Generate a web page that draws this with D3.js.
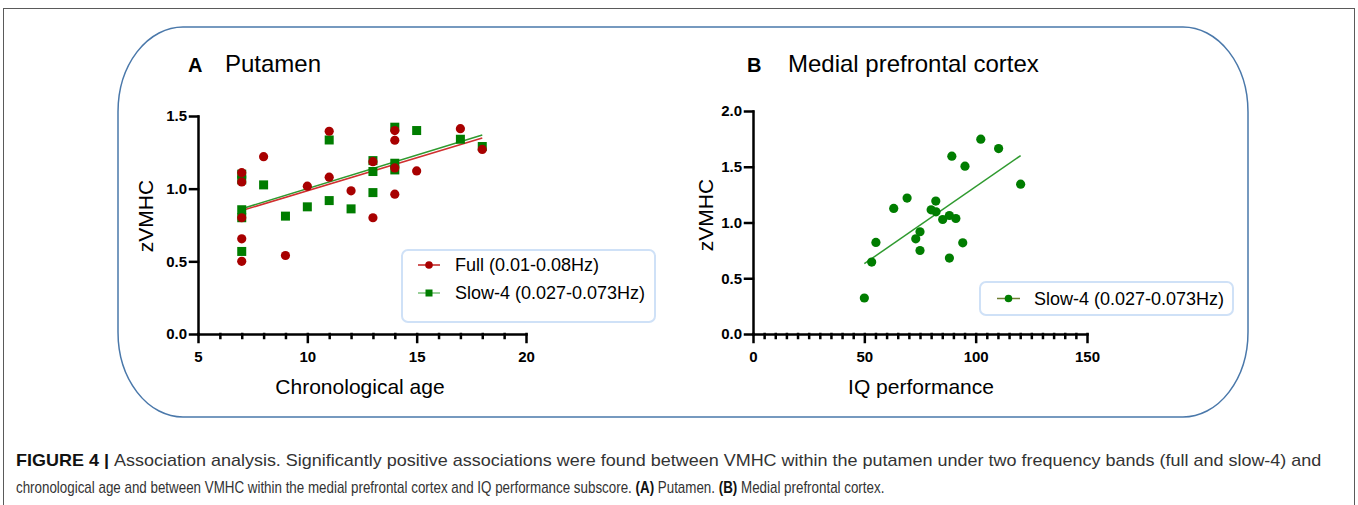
<!DOCTYPE html>
<html>
<head>
<meta charset="utf-8">
<script src="https://cdn.jsdelivr.net/npm/d3@7"></script>
<style>
  body { margin: 0; background: #fff; }
  text { font-family: "Liberation Sans", Arial, sans-serif; }
</style>
</head>
<body>
<div id="canvas"></div>
<script>
"use strict"

/* panel A: putamen, full band (red circles) */
let ageFull  = [7, 7, 7, 7, 7, 8, 9, 10, 11, 11, 12, 13, 13, 14, 14, 14, 14, 15, 17, 18]
let vmhcFull = [0.50, 0.655, 0.80, 1.046, 1.11, 1.22, 0.54, 1.017, 1.395, 1.079,
                0.985, 0.80, 1.186, 1.40, 1.333, 1.143, 0.962, 1.122, 1.413, 1.27]

/* panel A: putamen, slow-4 band (green squares) */
let ageSlow  = [7, 7, 7, 7, 7, 8, 9, 10, 11, 11, 12, 13, 13, 13, 14, 14, 14, 15, 17, 18]
let vmhcSlow = [0.568, 0.80, 0.855, 1.06, 1.10, 1.026, 0.811, 0.875, 0.918, 1.335,
                0.861, 1.193, 1.118, 0.973, 1.423, 1.175, 1.129, 1.40, 1.34, 1.29]

/* panel B: medial prefrontal cortex vs IQ performance */
let iqScore = [50, 53.3, 55.2, 63.2, 69.2, 73.1, 75, 75, 80, 82.1, 82.2,
               85.2, 88.2, 91.1, 88.2, 89.3, 94.2, 95.2, 102.3, 110.3, 120.2]
let vmhcIQ  = [0.323, 0.645, 0.821, 1.126, 1.219, 0.854, 0.917, 0.749, 1.114, 1.192, 1.096,
               1.027, 1.063, 1.036, 0.681, 1.595, 0.818, 1.505, 1.747, 1.663, 1.344]

/* tick labels */
let ageTicks   = [5, 10, 15, 20]
let ageMinor   = [6, 7, 8, 9, 11, 12, 13, 14, 16, 17, 18, 19]
let vmhcTicksA = [0, 0.5, 1.0, 1.5]
let iqTicks    = [0, 50, 100, 150]
let iqMinor    = [5, 10, 15, 20, 25, 30, 35, 40, 45, 55, 60, 65, 70, 75, 80, 85, 90, 95,
                  105, 110, 115, 120, 125, 130, 135, 140, 145]
let vmhcTicksB = [0, 0.5, 1.0, 1.5, 2.0]

let legendA = ["Full (0.01-0.08Hz)", "Slow-4 (0.027-0.073Hz)"]
let legendB = ["Slow-4 (0.027-0.073Hz)"]

/* caption pieces, [text, bold?] */
let captionLine1 = [["FIGURE 4 | ", true],
    ["Association analysis. Significantly positive associations were found between VMHC within the putamen under two frequency bands (full and slow-4) and", false]]
let captionLine2 = [["chronological age and between VMHC within the medial prefrontal cortex and IQ performance subscore. ", false],
    ["(A)", true], [" Putamen. ", false], ["(B)", true], [" Medial prefrontal cortex.", false]]

/* colours picked off the figure */
let red = "#a80000"
let green = "#007d00"

let drawing = d3.select("#canvas")
    .append("svg")
    .attr("width", 1358)
    .attr("height", 505)

/* grey frame around the whole figure */
drawing.append("rect")
    .attr("x", 3.5)
    .attr("y", 8.5)
    .attr("width", 1351)
    .attr("height", 520)
    .attr("fill", "none")
    .attr("stroke", "#5a5a5a")
    .attr("stroke-width", 1)

/* the big blue rounded box */
drawing.append("rect")
    .attr("x", 118)
    .attr("y", 27)
    .attr("width", 1130)
    .attr("height", 390)
    .attr("rx", 65)
    .attr("ry", 85)
    .attr("fill", "none")
    .attr("stroke", "#4a78aa")
    .attr("stroke-width", 1.5)

/* least squares line through a series */
function fitLine(xs, ys) {
    let mx = d3.mean(xs), my = d3.mean(ys)
    let sxy = d3.sum(xs, (x, i) => (x - mx) * (ys[i] - my))
    let sxx = d3.sum(xs, x => (x - mx) * (x - mx))
    let b = sxy / sxx
    let a = my - b * mx
    let lo = d3.min(xs), hi = d3.max(xs)
    return [[lo, a + b * lo], [hi, a + b * hi]]
}

/* draws the two axes of one panel */
function drawAxes(g, x, y, xTicks, xMinor, yTicks) {
    g.append("g")
        .attr("transform", "translate(0," + y.range()[0] + ")")
        .call(d3.axisBottom(x).tickValues(xTicks).tickFormat(d3.format("d"))
              .tickSize(8).tickSizeOuter(0).tickPadding(9))
    let xMinorAxis = g.append("g")
        .attr("transform", "translate(0," + y.range()[0] + ")")
        .call(d3.axisBottom(x).tickValues(xMinor).tickFormat("")
              .tickSize(4).tickSizeOuter(0))
    xMinorAxis.select(".domain").remove()
    g.append("g")
        .attr("transform", "translate(" + x.range()[0] + ",0)")
        .call(d3.axisLeft(y).tickValues(yTicks).tickFormat(d3.format(".1f"))
              .tickSize(8).tickSizeOuter(0).tickPadding(3))

    g.selectAll(".domain, .tick line")
        .attr("stroke", "#000")
        .attr("stroke-width", 2.5)
        .attr("stroke-linecap", "square")
    g.selectAll(".tick text")
        .attr("font-family", "'Liberation Sans', Arial, sans-serif")
        .attr("font-size", 15)
        .attr("font-weight", "bold")
        .attr("fill", "#000")
}

/* ---------------- panel A ---------------- */
let xA = d3.scaleLinear().domain([5, 20]).range([198, 526])
let yA = d3.scaleLinear().domain([0, 1.5]).range([334, 116])
let panelA = drawing.append("g")

drawAxes(panelA, xA, yA, ageTicks, ageMinor, vmhcTicksA)

panelA.append("text")
    .attr("x", 188).attr("y", 72)
    .attr("font-size", 20).attr("font-weight", "bold")
    .text("A")
panelA.append("text")
    .attr("x", 225).attr("y", 72)
    .attr("font-size", 24)
    .text("Putamen")

panelA.append("text")
    .attr("transform", "translate(153,216) rotate(-90)")
    .attr("text-anchor", "middle")
    .attr("font-size", 21)
    .text("zVMHC")
panelA.append("text")
    .attr("x", 360).attr("y", 394)
    .attr("text-anchor", "middle")
    .attr("font-size", 21)
    .text("Chronological age")

let lineA = d3.line().x(d => xA(d[0])).y(d => yA(d[1]))

panelA.append("path")
    .attr("d", lineA(fitLine(ageSlow, vmhcSlow)))
    .attr("stroke", "#2f9a2f").attr("stroke-width", 1.6).attr("fill", "none")
panelA.append("path")
    .attr("d", lineA(fitLine(ageFull, vmhcFull)))
    .attr("stroke", "#d03030").attr("stroke-width", 1.6).attr("fill", "none")

/* green squares go under the red circles */
panelA.selectAll(".sq")
    .data(ageSlow)
    .enter().append("rect")
    .attr("x", (d, i) => xA(d) - 4.5)
    .attr("y", (d, i) => yA(vmhcSlow[i]) - 4.5)
    .attr("width", 9).attr("height", 9)
    .attr("fill", green)

panelA.selectAll(".dot")
    .data(ageFull)
    .enter().append("circle")
    .attr("cx", (d, i) => xA(d))
    .attr("cy", (d, i) => yA(vmhcFull[i]))
    .attr("r", 4.6)
    .attr("fill", red)

/* legend A */
let legA = panelA.append("g").attr("transform", "translate(402,250)")
legA.append("rect")
    .attr("width", 253).attr("height", 72).attr("rx", 6)
    .attr("fill", "#fff").attr("stroke", "#cfe1f7").attr("stroke-width", 2)
legA.append("line")
    .attr("x1", 16).attr("x2", 38).attr("y1", 15).attr("y2", 15)
    .attr("stroke", "#c02020").attr("stroke-width", 1.5)
legA.append("circle")
    .attr("cx", 27).attr("cy", 15).attr("r", 3.8).attr("fill", red)
legA.append("line")
    .attr("x1", 16).attr("x2", 38).attr("y1", 43).attr("y2", 43)
    .attr("stroke", "#78c078").attr("stroke-width", 1.5)
legA.append("rect")
    .attr("x", 23.5).attr("y", 39.5).attr("width", 7).attr("height", 7).attr("fill", green)
legA.selectAll(".lab")
    .data(legendA)
    .enter().append("text")
    .attr("x", 53)
    .attr("y", (d, i) => 21 + i * 28)
    .attr("font-size", 18)
    .text(d => d)

/* ---------------- panel B ---------------- */
let xB = d3.scaleLinear().domain([0, 150]).range([753, 1087])
let yB = d3.scaleLinear().domain([0, 2]).range([334, 111])
let panelB = drawing.append("g")

drawAxes(panelB, xB, yB, iqTicks, iqMinor, vmhcTicksB)

panelB.append("text")
    .attr("x", 747).attr("y", 72)
    .attr("font-size", 20).attr("font-weight", "bold")
    .text("B")
panelB.append("text")
    .attr("x", 788).attr("y", 72)
    .attr("font-size", 24)
    .text("Medial prefrontal cortex")

panelB.append("text")
    .attr("transform", "translate(713,215) rotate(-90)")
    .attr("text-anchor", "middle")
    .attr("font-size", 21)
    .text("zVMHC")
panelB.append("text")
    .attr("x", 921).attr("y", 394)
    .attr("text-anchor", "middle")
    .attr("font-size", 21)
    .text("IQ performance")

let lineB = d3.line().x(d => xB(d[0])).y(d => yB(d[1]))
panelB.append("path")
    .attr("d", lineB(fitLine(iqScore, vmhcIQ)))
    .attr("stroke", "#2f9a2f").attr("stroke-width", 1.5).attr("fill", "none")

panelB.selectAll(".dot")
    .data(iqScore)
    .enter().append("circle")
    .attr("cx", (d, i) => xB(d))
    .attr("cy", (d, i) => yB(vmhcIQ[i]))
    .attr("r", 4.6)
    .attr("fill", green)

/* legend B */
let legB = panelB.append("g").attr("transform", "translate(980,282)")
legB.append("rect")
    .attr("width", 253).attr("height", 33).attr("rx", 6)
    .attr("fill", "#fff").attr("stroke", "#cfe1f7").attr("stroke-width", 2)
legB.append("line")
    .attr("x1", 17).attr("x2", 40).attr("y1", 16.5).attr("y2", 16.5)
    .attr("stroke", "#6e7d32").attr("stroke-width", 1.5)
legB.append("circle")
    .attr("cx", 28.5).attr("cy", 16.5).attr("r", 3.8).attr("fill", green)
legB.selectAll(".lab")
    .data(legendB)
    .enter().append("text")
    .attr("x", 54)
    .attr("y", 23)
    .attr("font-size", 18)
    .text(d => d)

/* ---------------- caption ---------------- */
/* each caption line is stretched or squeezed sideways to the width it
   has in the figure */
function captionLine(pieces, x, y, width) {
    let g = drawing.append("g")
    let t = g.append("text")
        .attr("x", 0).attr("y", 0)
        .attr("font-size", 16)
        .attr("fill", "#333")
    t.selectAll("tspan")
        .data(pieces)
        .enter().append("tspan")
        .attr("font-weight", d => d[1] ? "bold" : "normal")
        .attr("fill", d => d[1] ? "#111" : "#333")
        .text(d => d[0])
    let k = width / t.node().getComputedTextLength()
    g.attr("transform", "translate(" + x + "," + y + ") scale(" + k + ",1)")
}

captionLine(captionLine1, 16, 466, 1306)
captionLine(captionLine2, 16, 493, 869)
</script>
</body>
</html>
